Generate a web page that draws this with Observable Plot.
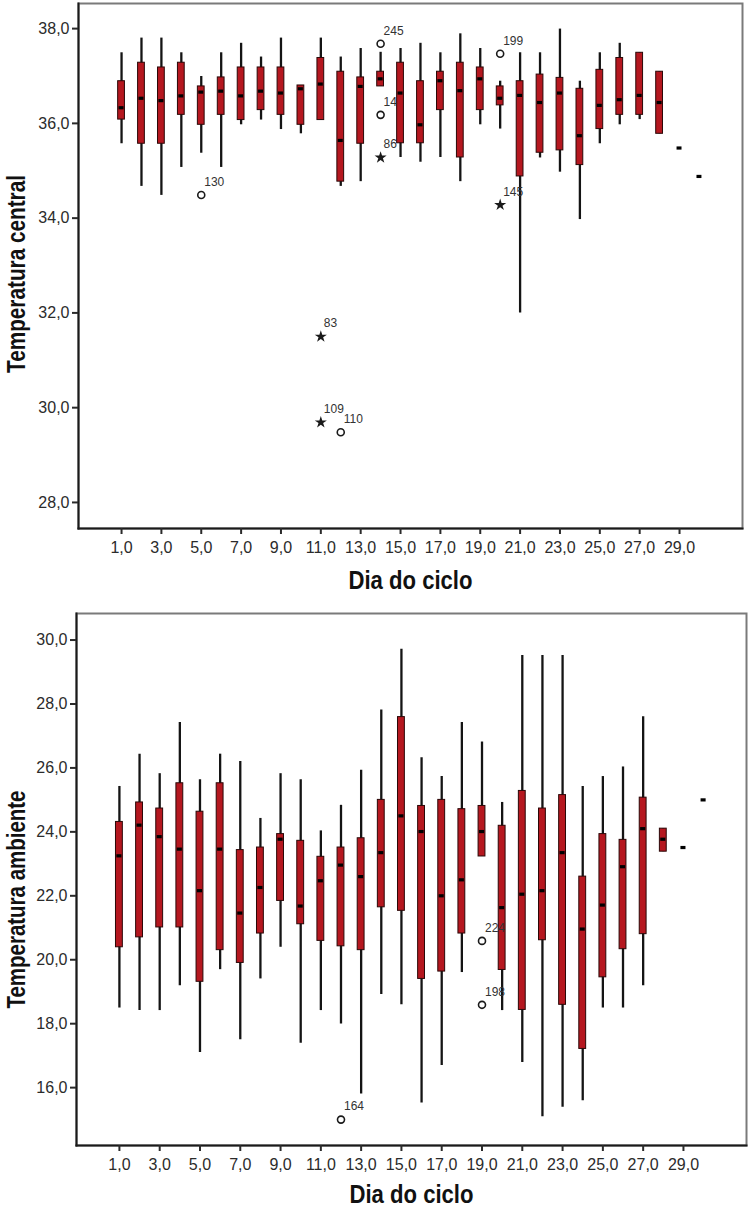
<!DOCTYPE html>
<html>
<head>
<meta charset="utf-8">
<script src="https://cdn.jsdelivr.net/npm/d3@7"></script>
<script src="https://cdn.jsdelivr.net/npm/@observablehq/plot@0.6"></script>
<style>
  body { margin: 0; background: #fff; }
  #chart { width: 750px; }
  #chart svg { display: block; }
</style>
</head>
<body>
<div id="chart"></div>
<script>
// ---- categories / ticks ----
const days = d3.range(1, 31);
const xTickDays = [1, 3, 5, 7, 9, 11, 13, 15, 17, 19, 21, 23, 25, 27, 29];
const centralYTicks = [28, 30, 32, 34, 36, 38];
const ambienteYTicks = [16, 18, 20, 22, 24, 26, 28, 30];

// ---- Temperatura central (per day 1..30) ----
const centralMin = [35.57, 34.67, 34.48, 35.07, 35.37, 35.07, 35.97, 36.07, 35.87, 35.78, 36.07, 34.67, 34.77, 36.78, 35.28, 35.18, 35.28, 34.77, 35.97, 35.88, 32.0, 35.27, 34.97, 33.97, 35.57, 35.97, 36.08, 35.78, 35.48, 34.88];
const centralQ1 = [36.08, 35.57, 35.57, 36.18, 35.97, 36.18, 36.07, 36.28, 36.18, 35.97, 36.07, 34.77, 35.57, 36.78, 35.58, 35.58, 36.28, 35.28, 36.28, 36.38, 34.88, 35.38, 35.43, 35.12, 35.88, 36.18, 36.18, 35.78, null, null];
const centralMedian = [36.33, 36.53, 36.48, 36.58, 36.66, 36.68, 36.58, 36.68, 36.64, 36.73, 36.83, 35.64, 36.78, 36.94, 36.64, 35.97, 36.90, 36.69, 36.94, 36.53, 36.59, 36.44, 36.64, 35.74, 36.38, 36.50, 36.59, 36.44, 35.48, 34.88];
const centralQ3 = [36.89, 37.28, 37.18, 37.28, 36.78, 36.97, 37.18, 37.18, 37.18, 36.80, 37.38, 37.09, 36.97, 37.09, 37.28, 36.89, 37.09, 37.28, 37.18, 36.78, 36.89, 37.03, 36.96, 36.73, 37.13, 37.38, 37.49, 37.09, null, null];
const centralMax = [37.49, 37.80, 37.80, 37.49, 36.99, 37.49, 37.69, 37.40, 37.80, 36.80, 37.80, 37.40, 37.58, 37.50, 37.58, 37.69, 37.49, 37.89, 37.58, 36.89, 37.49, 37.49, 37.99, 36.89, 37.49, 37.69, 37.49, 37.09, 35.48, 34.88];
// outliers: day, value, case label, kind
const centralOutDay = [5, 11, 11, 12, 14, 14, 14, 20, 20];
const centralOutValue = [34.49, 31.50, 29.69, 29.48, 37.68, 36.18, 35.28, 37.47, 34.28];
const centralOutLabel = ["130", "83", "109", "110", "245", "14", "86", "199", "145"];
const centralOutKind = ["o", "*", "*", "o", "o", "o", "*", "o", "*"];

// ---- Temperatura ambiente (per day 1..30) ----
const ambMin = [18.49, 18.41, 18.41, 19.19, 17.10, 19.69, 17.50, 19.40, 20.39, 17.39, 18.41, 17.99, 15.80, 18.91, 18.59, 15.52, 16.69, 19.60, 23.23, 18.41, 16.79, 15.09, 15.39, 15.59, 18.49, 18.49, 19.19, 23.38, 23.51, 25.0];
const ambQ1 = [20.39, 20.70, 21.01, 21.01, 19.31, 20.30, 19.90, 20.82, 21.84, 21.11, 20.59, 20.42, 20.30, 21.64, 21.53, 19.40, 19.63, 20.82, 23.23, 19.68, 18.43, 20.61, 18.59, 17.21, 19.45, 20.33, 20.80, 23.38, null, null];
const ambMedian = [23.25, 24.21, 23.85, 23.46, 22.16, 23.46, 21.46, 22.26, 23.77, 21.68, 22.47, 22.96, 22.60, 23.35, 24.50, 24.01, 22.00, 22.50, 24.01, 21.63, 22.05, 22.16, 23.35, 20.96, 21.71, 22.91, 24.10, 23.77, 23.51, 25.0];
const ambQ3 = [24.31, 24.92, 24.73, 25.52, 24.63, 25.52, 23.43, 23.51, 23.93, 23.72, 23.22, 23.51, 23.80, 25.0, 27.59, 24.81, 25.0, 24.71, 24.81, 24.19, 25.28, 24.73, 25.15, 22.60, 23.93, 23.75, 25.07, 24.10, null, null];
const ambMax = [25.42, 26.43, 25.82, 27.42, 25.63, 26.43, 26.20, 24.42, 25.82, 25.63, 24.03, 24.83, 25.93, 27.81, 29.71, 26.32, 25.73, 27.42, 26.81, 24.92, 29.52, 29.52, 29.52, 25.42, 25.73, 26.03, 27.60, 24.10, 23.51, 25.0];
const ambOutDay = [12, 19, 19];
const ambOutValue = [15.0, 20.59, 18.59];
const ambOutLabel = ["164", "224", "198"];
const ambOutKind = ["o", "o", "o"];

// ---- build tables ----
function table(mins, q1s, meds, q3s, maxs) {
  return days.map((d, i) => ({day: d, min: mins[i], q1: q1s[i], median: meds[i], q3: q3s[i], max: maxs[i]}));
}
function outTable(ds, vs, ls, ks) {
  return ds.map((d, i) => ({day: d, value: vs[i], label: ls[i], kind: ks[i]}));
}
const centralData = table(centralMin, centralQ1, centralMedian, centralQ3, centralMax);
const centralOut = outTable(centralOutDay, centralOutValue, centralOutLabel, centralOutKind);
const ambienteData = table(ambMin, ambQ1, ambMedian, ambQ3, ambMax);
const ambienteOut = outTable(ambOutDay, ambOutValue, ambOutLabel, ambOutKind);

const fmt = d => d.toFixed(1).replace(".", ",");
const tickFont = "'Liberation Sans', Arial, sans-serif";
// condensed look of the original bold titles (text kept as real text)
const titleLengths = {"Dia do ciclo": 124, "Temperatura central": 198, "Temperatura ambiente": 218};

function panel(o) {
  const boxes = o.data.filter(d => d.q1 != null);
  const svg = Plot.plot({
    width: 750,
    height: o.height,
    marginTop: o.marginTop,
    marginBottom: o.marginBottom,
    marginLeft: o.marginLeft,
    marginRight: o.marginRight,
    style: {fontFamily: tickFont, fontSize: "16px", color: "#2b2b2b", background: "#fff", overflow: "visible"},
    x: {type: "band", domain: days, paddingInner: 0.6, paddingOuter: o.paddingOuter, align: 0.5, round: false},
    y: {domain: o.yDomain},
    marks: [
      Plot.frame({stroke: "#7a7a7a", strokeWidth: 2}),
      Plot.frame({anchor: "left", stroke: "#1a1a1a", strokeWidth: 2}),
      Plot.frame({anchor: "bottom", stroke: "#1a1a1a", strokeWidth: 2}),
      Plot.axisY({ticks: o.yTicks, tickFormat: fmt, tickSize: 6, tickPadding: 3, strokeWidth: 2, label: null, fontSize: 16}),
      Plot.axisX({ticks: xTickDays, tickFormat: d => d + ",0", tickSize: 6, tickPadding: 7, strokeWidth: 2, label: null, fontSize: 16}),
      // whiskers
      Plot.ruleX(boxes, {x: "day", y1: "min", y2: "max", stroke: "#141414", strokeWidth: 2.3}),
      // boxes
      Plot.barY(boxes, {x: "day", y1: "q1", y2: "q3", fill: "#b5171f", stroke: "#2a0808", strokeWidth: 1, insetLeft: 0.6, insetRight: 0.6}),
      // medians (and single values)
      Plot.tickY(o.data, {x: "day", y: "median", stroke: "#000", strokeWidth: 3.2, insetLeft: 1.5, insetRight: 1.5}),
      // outliers
      Plot.dot(o.out.filter(d => d.kind === "o"), {x: "day", y: "value", r: 3.5, stroke: "#1a1a1a", strokeWidth: 1.6, fill: "none"}),
      Plot.dot(o.out.filter(d => d.kind === "*"), {x: "day", y: "value", r: 3.8, symbol: "star", fill: "#1a1a1a", stroke: "none"}),
      Plot.text(o.out, {x: "day", y: "value", text: "label", dx: 3, dy: -13, textAnchor: "start", fontSize: 12, fill: "#333"}),
      // axis titles
      Plot.text([o.yTitle], {text: d => d, frameAnchor: "left", rotate: -90, textAnchor: "middle", lineAnchor: "bottom", dx: o.titleDx, dy: o.titleDy, fontSize: 25, fontWeight: "bold", fill: "#111"}),
      Plot.text(["Dia do ciclo"], {text: d => d, frameAnchor: "bottom", textAnchor: "middle", lineAnchor: "bottom", dy: o.xTitleDy, fontSize: 25, fontWeight: "bold", fill: "#111"})
    ]
  });
  d3.select(svg).selectAll("text").each(function () {
    const len = titleLengths[this.textContent];
    if (len) d3.select(this).attr("textLength", len).attr("lengthAdjust", "spacingAndGlyphs");
  });
  return svg;
}

const centralPlot = panel({
  height: 600, marginTop: 3, marginBottom: 72, marginLeft: 78, marginRight: 8,
  paddingOuter: 1.96, yDomain: [27.45, 38.53], yTicks: centralYTicks,
  data: centralData, out: centralOut, yTitle: "Temperatura central", titleDx: -54, titleDy: 8, xTitleDy: 60
});
const ambientePlot = panel({
  height: 607, marginTop: 13, marginBottom: 62, marginLeft: 76, marginRight: 4,
  paddingOuter: 1.93, yDomain: [14.19, 30.83], yTicks: ambienteYTicks,
  data: ambienteData, out: ambienteOut, yTitle: "Temperatura ambiente", titleDx: -52, titleDy: 20, xTitleDy: 57
});
document.getElementById("chart").append(centralPlot, ambientePlot);
</script>
</body>
</html>
